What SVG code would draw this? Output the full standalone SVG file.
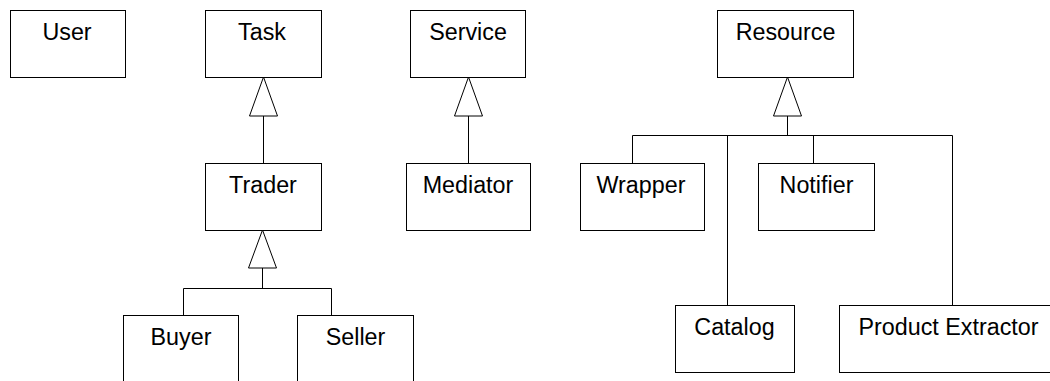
<svg xmlns="http://www.w3.org/2000/svg" width="1050" height="381" viewBox="0 0 1050 381">
<style>
.box{fill:#fff;stroke:#000;stroke-width:1}
.lbl{font-family:"Liberation Sans",Arial,sans-serif;font-size:23.3px;fill:#000;text-anchor:middle}
.ln{fill:none;stroke:#000;stroke-width:1}
.tri{fill:#fff;stroke:#000;stroke-width:1}
</style>
<rect width="1050" height="381" fill="#fff"/>
<g id="connectors">
<path class="ln" d="M263.5 116V163"/>
<polygon class="tri" points="263.5,77 249.5,116 277.5,116"/>
<path class="ln" d="M468.5 116V163"/>
<polygon class="tri" points="468.5,77 454.5,116 482.5,116"/>
<path class="ln" d="M262.5 268V288.5M183.5 315V288.5H331.5V315"/>
<polygon class="tri" points="262.5,230 248.5,268 276.5,268"/>
<path class="ln" d="M787.5 116V135.5M632.5 163V135.5H952.5V305M727.5 135.5V305M813.5 135.5V163"/>
<polygon class="tri" points="787.5,77 773.5,116 801.5,116"/>
</g>
<g id="User"><rect class="box" x="10.5" y="10.5" width="115" height="67"/><text class="lbl" x="67" y="39.5">User</text></g>
<g id="Task"><rect class="box" x="205.5" y="10.5" width="116" height="67"/><text class="lbl" x="262" y="39.5">Task</text></g>
<g id="Service"><rect class="box" x="410.5" y="10.5" width="115" height="67"/><text class="lbl" x="468" y="39.5">Service</text></g>
<g id="Resource"><rect class="box" x="717.5" y="10.5" width="136" height="67"/><text class="lbl" x="785.5" y="39.5">Resource</text></g>
<g id="Trader"><rect class="box" x="205.5" y="163.5" width="116" height="67"/><text class="lbl" x="263" y="192.5">Trader</text></g>
<g id="Mediator"><rect class="box" x="406.5" y="163.5" width="124" height="67"/><text class="lbl" x="468" y="192.5">Mediator</text></g>
<g id="Wrapper"><rect class="box" x="580.5" y="163.5" width="124" height="67"/><text class="lbl" x="641" y="192.5">Wrapper</text></g>
<g id="Notifier"><rect class="box" x="758.5" y="163.5" width="116" height="67"/><text class="lbl" x="816.5" y="192.5">Notifier</text></g>
<g id="Buyer"><rect class="box" x="123.5" y="315.5" width="115" height="67"/><text class="lbl" x="181" y="344.5">Buyer</text></g>
<g id="Seller"><rect class="box" x="297.5" y="315.5" width="116" height="67"/><text class="lbl" x="355.5" y="344.5">Seller</text></g>
<g id="Catalog"><rect class="box" x="675.5" y="305.5" width="119" height="67"/><text class="lbl" x="734.5" y="334.5">Catalog</text></g>
<g id="ProductExtractor"><rect class="box" x="839.5" y="305.5" width="219" height="67"/><text class="lbl" x="948.5" y="334.5">Product Extractor</text></g>
</svg>
